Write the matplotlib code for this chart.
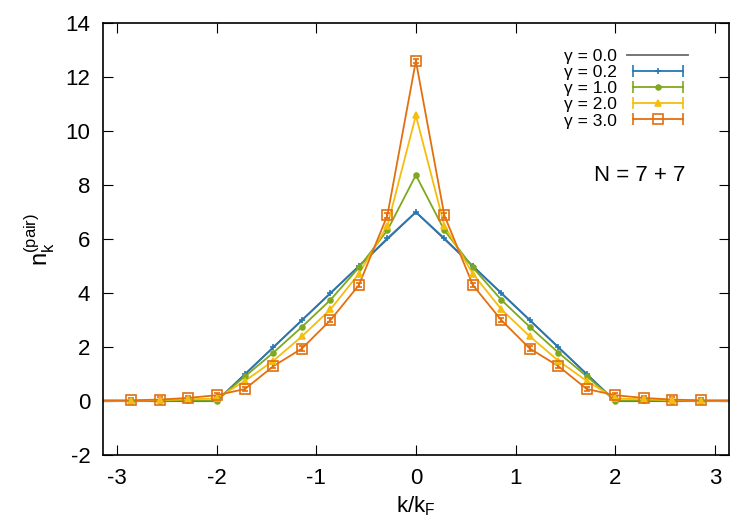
import numpy as np
import matplotlib.pyplot as plt
from matplotlib.lines import Line2D
from matplotlib.legend_handler import HandlerLine2D, HandlerTuple

plt.rcParams['font.family'] = ['Liberation Sans', 'DejaVu Sans']
plt.rcParams['axes.unicode_minus'] = False

# k/k_F grid: k = 2n/7, n = -11..11 (the outer pair lies just past pi)
k = np.arange(-11, 12) * 2.0 / 7.0

g00 = [0, 0, 0, 0, 0, 1, 2, 3, 4, 5, 6, 7, 6, 5, 4, 3, 2, 1, 0, 0, 0, 0, 0]
g02 = [0.01, 0.01, 0.01, 0.01, 0.0, 1.0, 2.0, 3.0, 4.0, 5.0, 6.03, 7.0,
       6.03, 5.0, 4.0, 3.0, 2.0, 1.0, 0.0, 0.01, 0.01, 0.01, 0.01]
g10 = [0.01, 0.01, 0.02, 0.03, 0.02, 0.92, 1.8, 2.75, 3.75, 4.95, 6.33, 8.37,
       6.33, 4.95, 3.75, 2.75, 1.8, 0.92, 0.02, 0.03, 0.02, 0.01, 0.01]
g20 = [0.02, 0.02, 0.04, 0.07, 0.1, 0.75, 1.5, 2.4, 3.4, 4.72, 6.5, 10.58,
       6.5, 4.72, 3.4, 2.4, 1.5, 0.75, 0.1, 0.07, 0.04, 0.02, 0.02]
g30 = [0.03, 0.03, 0.06, 0.12, 0.22, 0.45, 1.3, 1.95, 3.0, 4.3, 6.88, 12.6,
       6.88, 4.3, 3.0, 1.95, 1.3, 0.45, 0.22, 0.12, 0.06, 0.03, 0.03]

labels = ['γ = 0.0', 'γ = 0.2', 'γ = 1.0', 'γ = 2.0', 'γ = 3.0']
colors = ['#6b6b6b', '#2878b4', '#7fa81e', '#f6bd0e', '#e2700f']

fig = plt.figure(figsize=(7.5, 5.25), dpi=100)
ax = fig.add_axes([0.137, 0.133, 0.835, 0.823])

inside = np.abs(k) < np.pi
series = [g02, g10, g20, g30]
mk = ['+', 'o', '^', 's']
msz = [5, 3.5, 5, 6.5]
yerr = [0.0, 0.0, 0.0, 0.08]

ax.plot(k, g00, color=colors[0], lw=1.3)
for i, y in enumerate(series):
    y = np.array(y)
    c = colors[i + 1]
    ax.plot(k, y, color=c, lw=1.3)
    ax.errorbar(k[inside], y[inside], yerr=yerr[i] if yerr[i] else None, color=c,
                ls='none', marker=mk[i], ms=msz[i], mew=1.2, capsize=2,
                mfc='none' if i == 3 else c)

# legend in gnuplot style: line with end caps plus centre marker
handles = [Line2D([], [], color=colors[0], lw=1.3)]
hmap = {}
for i in range(4):
    c = colors[i + 1]
    ends = Line2D([], [], color=c, lw=1.3, marker='|', ms=8, mew=1.2)
    mid = Line2D([], [], color=c, lw=0, marker=mk[i], ms=msz[i],
                 mfc='none' if i == 3 else c, mew=1.2)
    hmap[ends] = HandlerLine2D(numpoints=2)
    hmap[mid] = HandlerLine2D(numpoints=1)
    handles.append((ends, mid))
hmap[tuple] = HandlerTuple(ndivide=1)
ax.legend(handles, labels, handler_map=hmap, loc='upper right', frameon=False,
          markerfirst=False, fontsize=12.5, handlelength=3.5, labelspacing=0.06,
          handletextpad=0.6, bbox_to_anchor=(0.946, 0.957), borderaxespad=0)

ax.text(0.858, 0.648, 'N = 7 + 7', transform=ax.transAxes, fontsize=16, ha='center', va='center')

ax.set_xlim(-np.pi, np.pi)
ax.set_ylim(-2, 14)
ax.set_xticks([-3, -2, -1, 0, 1, 2, 3])
ax.set_yticks(np.arange(-2, 15, 2))
ax.tick_params(direction='in', top=True, right=True, labelsize=16, length=7, pad=9)
for s in ax.spines.values():
    s.set_linewidth(1.2)

ax.set_xlabel('k/k$_\\mathregular{F}$', fontsize=16, labelpad=4)
ax.set_ylabel('n$_\\mathregular{k}^\\mathregular{(pair)}$', fontsize=17, labelpad=6)

fig.savefig('out.png', dpi=100)
